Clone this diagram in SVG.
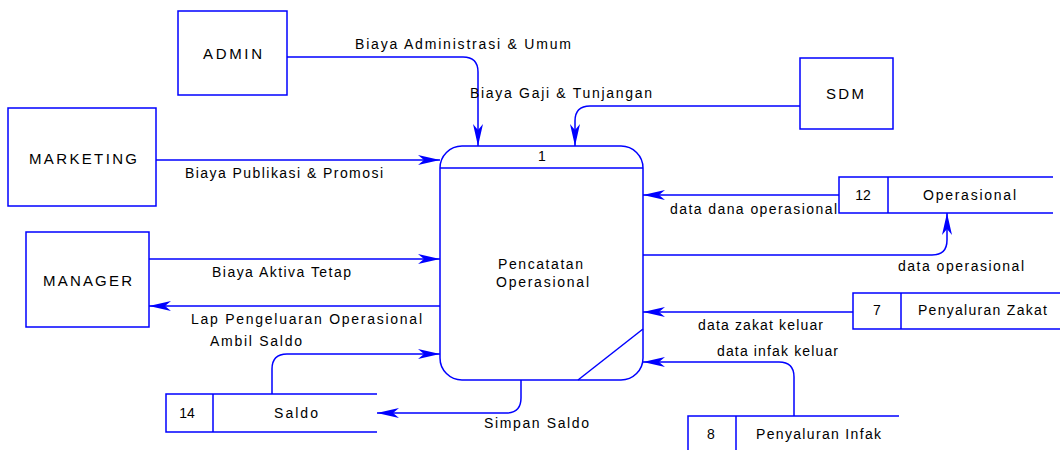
<svg xmlns="http://www.w3.org/2000/svg" width="1060" height="450" viewBox="0 0 1060 450">
<defs>
<style>
.s{fill:none;stroke:#0000ff;stroke-width:1.5}
.b{fill:#fff;stroke:#0000ff;stroke-width:1.5}
.c{fill:none;stroke:#0000ff;stroke-width:1.5;marker-end:url(#ah)}
text{font-family:"Liberation Sans",Arial,sans-serif;font-size:14px;fill:#000}
.e{font-size:15px}
.m{text-anchor:middle}
</style>
<marker id="ah" viewBox="-23 -6 24 12" refX="0" refY="0" markerWidth="24" markerHeight="12" markerUnits="userSpaceOnUse" orient="auto">
<path d="M0,0 L-22,-5 L-16,0 L-22,5 Z" fill="#0000ff"/>
</marker>
</defs>
<rect width="1060" height="450" fill="#fff"/>
<g id="connectors">
<path class="c" d="M287,57 H463 Q478,57 478,72 V146"/>
<path class="c" d="M800,106 H590 Q575,106 575,121 V146"/>
<path class="c" d="M156,160 H440"/>
<path class="c" d="M149,259 H440"/>
<path class="c" d="M440,306 H149"/>
<path class="c" d="M839,195 H643"/>
<path class="c" d="M643,255 H932 Q947,255 947,240 V213"/>
<path class="c" d="M853,312 H643"/>
<path class="c" d="M794,416 V377 Q794,362 779,362 H643"/>
<path class="c" d="M521,380 V398 Q521,413 506,413 H377"/>
<path class="c" d="M272,394 V369 Q272,354 287,354 H440"/>
<text x="355" y="49" textLength="216" lengthAdjust="spacing">Biaya Administrasi &amp; Umum</text>
<text x="470" y="98" textLength="182" lengthAdjust="spacing">Biaya Gaji &amp; Tunjangan</text>
<text x="185" y="178" textLength="198" lengthAdjust="spacing">Biaya Publikasi &amp; Promosi</text>
<text x="212" y="277" textLength="139" lengthAdjust="spacing">Biaya Aktiva Tetap</text>
<text x="191" y="324" textLength="231" lengthAdjust="spacing">Lap Pengeluaran Operasional</text>
<text x="210" y="346" textLength="92" lengthAdjust="spacing">Ambil Saldo</text>
<text x="484" y="428" textLength="105" lengthAdjust="spacing">Simpan Saldo</text>
<text x="670" y="214" textLength="167" lengthAdjust="spacing">data dana operasional</text>
<text x="898" y="271" textLength="126" lengthAdjust="spacing">data operasional</text>
<text x="698" y="330" textLength="125" lengthAdjust="spacing">data zakat keluar</text>
<text x="717" y="356" textLength="121" lengthAdjust="spacing">data infak keluar</text>
</g>
<g id="admin">
<rect class="b" x="178" y="11" width="109" height="84"/>
<text class="e" x="203" y="59" textLength="59" lengthAdjust="spacing">ADMIN</text>
</g>
<g id="marketing">
<rect class="b" x="8" y="108" width="148" height="98"/>
<text class="e" x="29" y="164" textLength="108" lengthAdjust="spacing">MARKETING</text>
</g>
<g id="manager">
<rect class="b" x="26" y="232" width="123" height="95"/>
<text class="e" x="43" y="286" textLength="89" lengthAdjust="spacing">MANAGER</text>
</g>
<g id="sdm">
<rect class="b" x="800" y="58" width="93" height="71"/>
<text class="e" x="826" y="99" textLength="38" lengthAdjust="spacing">SDM</text>
</g>
<g id="process1">
<rect class="s" x="440" y="146" width="203" height="234" rx="22" ry="22"/>
<line class="s" x1="440" y1="168" x2="643" y2="168"/>
<line class="s" x1="578" y1="380" x2="643" y2="329"/>
<text class="m" x="542" y="161">1</text>
<text x="498" y="269" textLength="85" lengthAdjust="spacing">Pencatatan</text>
<text x="496" y="287" textLength="93" lengthAdjust="spacing">Operasional</text>
</g>
<g id="store12">
<path class="s" d="M1053,177 H839 V213 H1053 M888,177 V213"/>
<text class="m" x="863" y="200">12</text>
<text x="923" y="200" textLength="93" lengthAdjust="spacing">Operasional</text>
</g>
<g id="store7">
<path class="s" d="M1062,293 H853 V329 H1062 M901,293 V329"/>
<text class="m" x="877" y="315">7</text>
<text x="918" y="315" textLength="129" lengthAdjust="spacing">Penyaluran Zakat</text>
</g>
<g id="store8">
<path class="s" d="M899,416 H688 V452 M736,416 V452"/>
<text class="m" x="711" y="439">8</text>
<text x="756" y="439" textLength="125" lengthAdjust="spacing">Penyaluran Infak</text>
</g>
<g id="store14">
<path class="s" d="M377,394 H166 V432 H377 M213,394 V432"/>
<text class="m" x="187" y="418">14</text>
<text x="274" y="418" textLength="44" lengthAdjust="spacing">Saldo</text>
</g>
</svg>
